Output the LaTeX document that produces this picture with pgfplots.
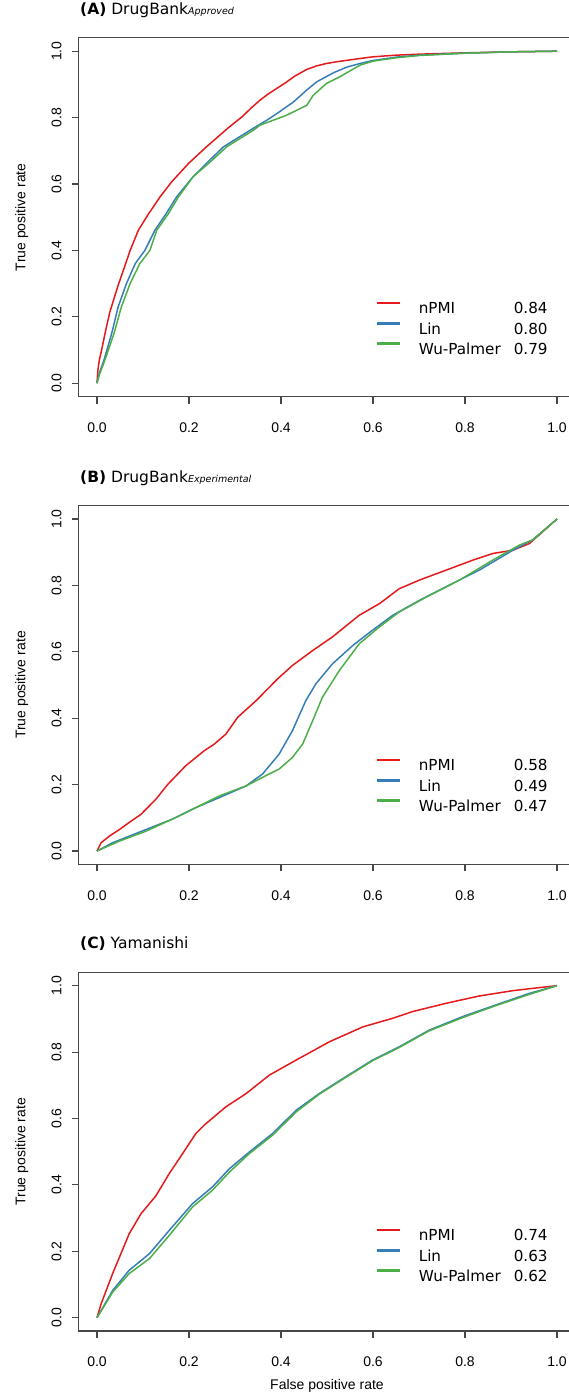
\documentclass[border=0pt]{standalone}
\usepackage{pgfplots}
\pgfplotsset{compat=1.18}
\usepackage{fontspec}
\setmainfont{Liberation Sans}
\newfontfamily\dejavu{DejaVu Sans}
\definecolor{cred}{HTML}{E41A1C}
\definecolor{cblue}{HTML}{377EB8}
\definecolor{cgreen}{HTML}{4DAF4A}

\pgfplotsset{
 rocax/.style={
  scale only axis, width=496.8pt, height=358.6pt,
  xmin=-0.04, xmax=1.04, ymin=-0.04, ymax=1.04,
  xtick={0,0.2,0.4,0.6,0.8,1}, ytick={0,0.2,0.4,0.6,0.8,1},
  xtick pos=bottom, ytick pos=left, tick align=outside, major tick length=7pt,
  axis line style={black!72, line width=1.1pt},
  tick style={black!72, line width=1.1pt},
  ticklabel style={font=\fontsize{14}{16}\selectfont, inner sep=0pt},
  /pgf/number format/.cd, fixed, fixed zerofill, precision=1, assume math mode=true,
  /pgfplots/.cd,
  xticklabel style={anchor=north},
  xticklabel shift=19pt,
  yticklabel style={rotate=90, anchor=south},
  yticklabel shift=10pt,
  ylabel={True positive rate},
  ylabel style={at={(axis description cs:-0.107,0.5)}, anchor=base, font=\fontsize{14}{16}\selectfont, inner sep=0pt},
  title style={at={(axis description cs:0,1)}, anchor=base west, xshift=1.4pt, yshift=17.5pt, inner sep=0pt, font=\dejavu\fontsize{15.5}{18}\selectfont},
  legend image code/.code={\draw[##1, line width=2.8pt] (0pt,5.4pt) -- (23pt,5.4pt);},
  legend cell align=left,
  legend style={draw=none, fill=none, inner sep=0pt, outer sep=0pt, anchor=north west, row sep=8pt, column sep=17pt, font=\dejavu\fontsize{15.2}{18}\selectfont, nodes={inner sep=0pt, text height=11pt, text depth=0pt}},
  every axis plot/.append style={line width=1.5pt, no marks},
 }
}

\begin{document}
\begin{tikzpicture}
\useasboundingbox (0pt,0pt) rectangle (569pt,-1400pt);

% ---------------- (A) ----------------
\begin{axis}[rocax, at={(78.6pt,-37.9pt)}, anchor=north west,
  title={\textbf{(A)} DrugBank{\fontsize{9.5}{11}\selectfont\itshape Approved}},
  legend style={at={(0.5986,0.2649)}}]
\addplot[cred] coordinates {(0,0) (0.002,0.04) (0.005,0.069) (0.01,0.10) (0.019,0.16) (0.028,0.215) (0.046,0.295) (0.061,0.355) (0.072,0.40) (0.09,0.461) (0.112,0.51) (0.137,0.561) (0.162,0.606) (0.199,0.662) (0.238,0.712) (0.286,0.77) (0.315,0.802) (0.336,0.83) (0.354,0.852) (0.372,0.871) (0.391,0.888) (0.41,0.905) (0.43,0.925) (0.456,0.945) (0.478,0.956) (0.499,0.963) (0.52,0.968) (0.572,0.978) (0.6,0.983) (0.65,0.988) (0.7,0.991) (0.8,0.995) (0.9,0.998) (1,1)};
\addplot[cblue] coordinates {(0,0) (0.005,0.03) (0.015,0.069) (0.032,0.15) (0.046,0.23) (0.064,0.30) (0.083,0.36) (0.104,0.40) (0.126,0.461) (0.15,0.51) (0.173,0.561) (0.209,0.622) (0.24,0.665) (0.275,0.712) (0.333,0.762) (0.369,0.792) (0.391,0.812) (0.427,0.847) (0.456,0.883) (0.478,0.908) (0.514,0.935) (0.543,0.952) (0.572,0.963) (0.6,0.972) (0.65,0.982) (0.7,0.988) (0.8,0.994) (0.9,0.998) (1,1)};
\addplot[cgreen] coordinates {(0,0) (0.005,0.025) (0.017,0.069) (0.037,0.15) (0.053,0.23) (0.072,0.30) (0.093,0.36) (0.115,0.40) (0.13,0.461) (0.155,0.51) (0.177,0.561) (0.209,0.622) (0.245,0.665) (0.282,0.712) (0.34,0.762) (0.354,0.777) (0.412,0.807) (0.456,0.837) (0.462,0.85) (0.47,0.867) (0.499,0.903) (0.528,0.923) (0.572,0.958) (0.6,0.97) (0.65,0.98) (0.7,0.987) (0.8,0.994) (0.9,0.998) (1,1)};
\legend{\makebox[95pt][l]{nPMI}0.84, \makebox[95pt][l]{Lin}0.80, \makebox[95pt][l]{Wu-Palmer}0.79}
\end{axis}

% ---------------- (B) ----------------
\begin{axis}[rocax, at={(78.6pt,-505.7pt)}, anchor=north west,
  title={\textbf{(B)} DrugBank{\fontsize{9.5}{11}\selectfont\itshape Experimental}},
  legend style={at={(0.5986,0.295)}}]
\addplot[cred] coordinates {(0,0) (0.009,0.025) (0.027,0.045) (0.049,0.065) (0.07,0.086) (0.096,0.111) (0.128,0.156) (0.154,0.201) (0.193,0.257) (0.233,0.302) (0.255,0.322) (0.28,0.352) (0.306,0.403) (0.346,0.453) (0.393,0.519) (0.425,0.559) (0.469,0.604) (0.512,0.645) (0.57,0.71) (0.614,0.745) (0.657,0.79) (0.701,0.816) (0.759,0.846) (0.817,0.876) (0.86,0.896) (0.904,0.906) (0.94,0.926) (1,1)};
\addplot[cblue] coordinates {(0,0) (0.034,0.025) (0.107,0.065) (0.164,0.096) (0.215,0.131) (0.266,0.161) (0.324,0.196) (0.36,0.232) (0.396,0.292) (0.425,0.363) (0.454,0.453) (0.476,0.504) (0.512,0.564) (0.556,0.619) (0.599,0.665) (0.643,0.71) (0.701,0.755) (0.759,0.796) (0.831,0.846) (0.904,0.906) (0.947,0.937) (1,1)};
\addplot[cgreen] coordinates {(0,0) (0.049,0.03) (0.107,0.06) (0.179,0.106) (0.266,0.166) (0.324,0.196) (0.367,0.227) (0.396,0.247) (0.425,0.282) (0.447,0.322) (0.469,0.393) (0.49,0.463) (0.527,0.544) (0.57,0.624) (0.614,0.675) (0.657,0.72) (0.716,0.765) (0.788,0.816) (0.86,0.876) (0.918,0.921) (0.947,0.937) (1,1)};
\legend{\makebox[95pt][l]{nPMI}0.58, \makebox[95pt][l]{Lin}0.49, \makebox[95pt][l]{Wu-Palmer}0.47}
\end{axis}

% ---------------- (C) ----------------
\begin{axis}[rocax, at={(78.6pt,-972.4pt)}, anchor=north west,
  title={\textbf{(C)} Yamanishi},
  xlabel={False positive rate},
  xlabel style={at={(axis description cs:0.5,-0.163)}, anchor=base, font=\fontsize{14}{16}\selectfont, inner sep=0pt},
  legend style={at={(0.5986,0.2856)}}]
\addplot[cred] coordinates {(0,0) (0.009,0.042) (0.02,0.082) (0.034,0.133) (0.052,0.193) (0.07,0.253) (0.096,0.314) (0.128,0.367) (0.157,0.434) (0.186,0.494) (0.215,0.555) (0.233,0.58) (0.28,0.635) (0.324,0.675) (0.375,0.731) (0.433,0.776) (0.505,0.831) (0.578,0.876) (0.643,0.902) (0.686,0.922) (0.759,0.947) (0.831,0.969) (0.904,0.985) (0.947,0.992) (1,1)};
\addplot[cblue] coordinates {(0,0) (0.034,0.082) (0.07,0.143) (0.114,0.193) (0.157,0.263) (0.208,0.344) (0.251,0.394) (0.288,0.449) (0.331,0.499) (0.382,0.555) (0.433,0.625) (0.483,0.675) (0.541,0.726) (0.599,0.776) (0.657,0.816) (0.722,0.866) (0.795,0.907) (0.867,0.942) (0.94,0.977) (1,1)};
\addplot[cgreen] coordinates {(0,0) (0.034,0.077) (0.07,0.133) (0.114,0.178) (0.157,0.248) (0.208,0.334) (0.251,0.384) (0.288,0.439) (0.331,0.494) (0.382,0.55) (0.433,0.62) (0.483,0.673) (0.541,0.724) (0.599,0.774) (0.657,0.814) (0.722,0.864) (0.795,0.904) (0.867,0.94) (0.94,0.974) (1,1)};
\legend{\makebox[95pt][l]{nPMI}0.74, \makebox[95pt][l]{Lin}0.63, \makebox[95pt][l]{Wu-Palmer}0.62}
\end{axis}
\end{tikzpicture}
\end{document}
